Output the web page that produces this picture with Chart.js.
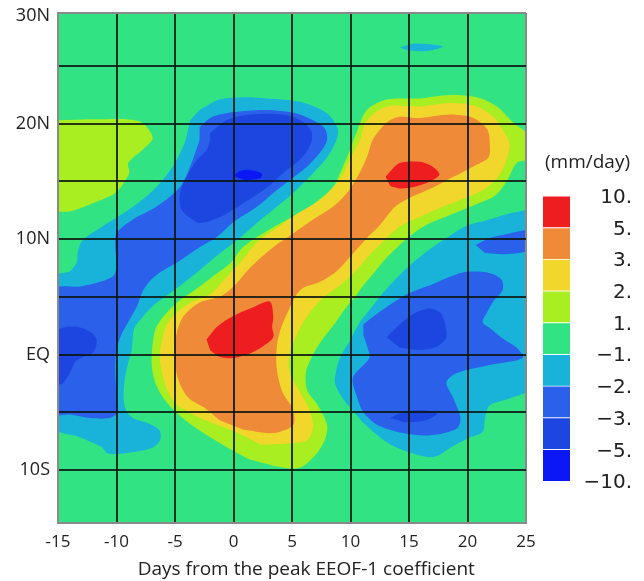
<!DOCTYPE html>
<html>
<head>
<meta charset="utf-8">
<script src="https://cdn.jsdelivr.net/npm/chart.js@4.4.1/dist/chart.umd.min.js"></script>
<style>
  html, body { margin: 0; padding: 0; background: #fff; }
  #wrap { position: relative; width: 644px; height: 581px; }
  #map { position: absolute; left: 0; top: 0; }
  #bar { position: absolute; left: 530px; top: 130px; }
</style>
</head>
<body>
<div id="wrap">
  <canvas id="map" width="540" height="581"></canvas>
  <canvas id="bar" width="114" height="380"></canvas>
</div>
<script>
'use strict';

// axes
const dayTicks = [-15, -10, -5, 0, 5, 10, 15, 20, 25];
const latTicks = [-10, -5, 0, 5, 10, 15, 20, 25];
const latLabels = { '-10': '10S', '0': 'EQ', '10': '10N', '20': '20N', '29.35': '30N' };

// colour levels (mm/day), bottom to top of the colour bar
const levelLabels = ['\u221210.', '\u22125.', '\u22123.', '\u22122.', '\u22121.', '1.', '2.', '3.', '5.', '10.'];
const GREEN = '#32e384', CYAN = '#19b3d9', BLUE1 = '#2a60ea', BLUE2 = '#1c46df', BLUE3 = '#0c18f3';
const YG = '#a8ee20', YEL = '#f1d62b', ORA = '#ef8a38', RED = '#ee1d1f';
const levelColors = [BLUE3, BLUE2, BLUE1, CYAN, GREEN, YG, YEL, ORA, RED];

// contour regions, [day, latitude]
const frame = [[-16, -16], [26, -16], [26, 31], [-16, 31]];

const cyanWest = [[-2.9,21.2],[-1.2,22.1],[1,22.3],[2.8,22.2],[5.7,21.9],[8.0,20.9],[8.9,19.6],[8.8,18.6],[8.0,17.1],[6.5,15.4],
  [5.1,14.0],[3.7,12.8],[2.0,11.4],[0.3,9.9],[-1.5,8.5],[-3.5,6.8],[-5.3,5.4],[-6.8,4.3],[-7.8,3.2],[-8.5,2.2],[-8.7,0.4],
  [-9.0,-0.7],[-9.3,-2.2],[-9.4,-3.7],[-9.2,-4.8],[-8.6,-5.5],[-7.2,-6.0],[-6.3,-6.6],[-6.3,-7.5],[-7.0,-8.1],[-8.8,-8.5],
  [-10.7,-8.6],[-11.3,-8.0],[-13.3,-7.1],[-15.3,-6.3],[-15.3,6.8],[-14,7.2],[-13.4,8.0],[-13.3,8.9],[-12.9,9.9],[-11.2,11.1],
  [-8.6,12.8],[-6.6,14.5],[-5.2,16.3],[-4.2,18.3],[-3.7,20.3]];
const cyanEast = [[25.3,12.6],[23.5,12.2],[21.5,11.6],[20,11.2],[18.5,10.3],[17,9.3],[15.5,8.1],[14.2,6.9],[13,5.6],[11.8,4.1],
  [10.8,2.8],[10,1.3],[9.1,-0.3],[8.7,-1.8],[8.7,-2.6],[9.4,-3.9],[10.4,-5.1],[11.3,-6.1],[13.1,-7.6],[14.8,-8.4],[16.8,-8.9],
  [17.6,-8.7],[18.5,-8.1],[20.2,-7.2],[21.3,-6.7],[21.5,-5.5],[21.9,-4.4],[23.6,-3.8],[25.3,-3.2]];
const cyanStreak = [[14.2,26.6],[15.5,26.95],[17.9,26.7],[16.5,26.3],[15,26.35]];

const blue1West = [[-2.9,19.7],[-1.8,20.6],[-0.1,21.0],[2.8,21.2],[5.4,20.9],[6.8,20.3],[7.8,19.6],[8.0,18.6],[7.4,17.5],[6.3,16.3],
  [4.8,15.1],[3.4,14.0],[2.0,12.8],[-0.1,11.4],[-1.4,10.2],[-2.9,9.3],[-4.8,8.0],[-6.3,7.1],[-7.2,6.3],[-7.8,5.4],[-8.2,4.3],
  [-8.9,3.0],[-9.6,1.7],[-10,0.4],[-10.1,-1.3],[-10,-3.5],[-9.9,-5.0],[-10.6,-5.5],[-12.3,-5.5],[-14,-5.2],[-15.3,-5.1],
  [-15.3,5.6],[-13.1,5.9],[-11.4,6.3],[-10.2,6.9],[-10,8.0],[-10.1,9.1],[-10,10.5],[-8.6,11.7],[-6.6,12.8],[-4.6,14.5],
  [-3.7,16.3],[-2.9,18.6]];
const blue1East = [[11.1,2.6],[12.5,3.7],[14.8,5.2],[16.8,6.0],[19.6,7.1],[21.7,7.1],[22.9,6.5],[23.0,5.6],[22.2,4.6],[21.7,3.7],
  [21.3,2.8],[21.9,2.3],[23.0,1.4],[24.2,0.6],[24.7,-0.3],[21.9,-0.9],[19.1,-1.6],[18.2,-2.4],[18.8,-3.8],[19.4,-5.5],
  [19.1,-6.4],[16.8,-7.0],[14.5,-6.8],[12.3,-6.1],[11.1,-5.0],[10.6,-3.8],[10.2,-2.0],[11.6,-0.3],[11.4,0.8],[11.1,1.7]];
const blue1North = [[20.7,9.5],[21.9,10.1],[23.6,10.5],[25.3,10.7],[25.3,9.1],[23.2,8.7],[21.5,8.8]];

const blue2West = [[-2.0,19.2],[-0.6,20.3],[1.4,20.8],[4.2,20.8],[5.9,20.2],[6.7,19.2],[6.5,18.0],[5.7,16.9],[4.2,15.7],[2.9,14.5],
  [0.8,13.1],[-1.2,11.9],[-2.9,11.4],[-3.5,11.7],[-4.4,12.5],[-4.6,13.8],[-4.0,15.4],[-3.1,16.9],[-2.3,17.7],[-2.0,18.6]];
const blue2Eq = [[-15.3,2.1],[-14.2,2.4],[-13.4,2.4],[-12.3,2.0],[-11.7,1.3],[-12.0,0.2],[-13.4,-0.5],[-14.0,-1.6],[-14.6,-2.5],[-15.3,-2.6]];
const blue2East = [[13.1,1.5],[14.2,2.6],[15.5,3.6],[16.8,4.0],[17.7,3.6],[18.1,2.6],[18.2,1.5],[17.4,0.7],[15.9,0.4],[14.2,0.6]];
const blue2South = [[13.4,-5.5],[14.2,-5.1],[16.0,-4.8],[17.4,-5.1],[16.4,-5.7],[14.7,-5.9]];
const blue3 = [[0.0,15.5],[0.6,15.9],[1.4,16.0],[2.4,15.7],[2.3,15.3],[1.0,15.1]];

const green1 = [[1.0,-8.9],[-0.1,-8.3],[-1.6,-7.4],[-3.3,-6.3],[-4.8,-5.1],[-5.9,-3.9],[-6.7,-2.4],[-7.0,-0.7],[-6.7,2.1],[-5.9,3.4],
  [-4.6,4.7],[-3.3,5.6],[-1.6,6.9],[-0.3,7.9],[0.8,9.3],[2.5,10.5],[4.6,11.7],[6.5,12.8],[8.5,14.5],[9.1,15.7],[9.7,17.1],
  [10.5,19.2],[11.4,21.2],[13.1,22.1],[15.9,22.2],[18.5,22.5],[20.8,22.3],[22.5,21.5],[23.9,20.1],[25.3,18.9],[25.3,17.0],
  [24.2,16.6],[23.4,15.1],[22.4,13.8],[20.7,13.0],[18.5,12.1],[16.8,11.4],[15.5,10.6],[14.2,9.5],[13.1,8.4],[12.1,7.2],
  [11.1,6.0],[10.4,5.0],[9.5,3.9],[8.6,2.6],[7.6,1.3],[6.8,0.0],[6.2,-1.5],[6.3,-3.1],[7.2,-4.4],[8.0,-6.1],[7.8,-7.4],
  [7.0,-8.7],[5.7,-9.8],[4.2,-9.8],[1.4,-9.1]];
const ygWest = [[-15.3,20.3],[-11.4,20.4],[-8.0,20.2],[-6.9,18.8],[-7.6,17.9],[-9.0,16.6],[-8.9,15.8],[-9.3,15.0],[-10.1,14.0],
  [-12.3,13.0],[-14.0,12.4],[-15.3,12.4]];
const yellow2 = [[1.0,-7.1],[-0.1,-6.6],[-1.9,-5.9],[-3.6,-5.1],[-5.0,-4.2],[-5.9,-2.4],[-6.3,-0.2],[-5.9,2.1],[-5.3,3.2],[-3.7,4.5],
  [-1.9,5.3],[-0.8,6.5],[0.5,7.9],[2.2,9.9],[3.9,11.1],[5.6,12.3],[7.4,13.4],[8.5,14.5],[9.4,15.7],[9.9,16.9],[10.8,18.6],
  [11.4,20.3],[13.1,21.5],[15.9,21.5],[18.5,21.8],[20.8,21.5],[22.2,20.6],[23.0,19.5],[23.6,18.3],[23.4,17.1],[22.8,15.7],
  [21.7,14.5],[19.9,13.6],[17.9,12.8],[15.9,11.9],[14.2,11.1],[12.9,9.9],[11.6,8.6],[10.5,7.3],[9.1,6.0],[7.4,4.7],[6.1,3.0],
  [5.4,1.7],[4.8,0.1],[4.8,-1.6],[5.7,-3.3],[6.5,-4.8],[6.8,-6.3],[6.3,-7.4],[4.6,-7.7],[2.3,-7.8]];
const orange3 = [[-1.2,-5.7],[-2.5,-4.6],[-3.9,-3.7],[-4.8,-1.9],[-5.0,0.4],[-4.8,2.1],[-4.2,3.4],[-2.9,4.5],[-1.0,5.1],[0.1,6.0],
  [1.4,7.5],[3.4,9.3],[5.1,10.5],[6.8,11.7],[8.5,12.8],[9.7,14.0],[10.6,15.4],[11.4,17.1],[11.9,18.6],[13.1,20.1],[14.2,20.6],
  [15.9,20.5],[18.5,20.8],[20.5,20.5],[21.7,19.5],[21.9,18.3],[21.8,17.1],[20.5,16.3],[18.8,15.4],[17.1,14.5],[15.1,13.6],
  [13.8,12.8],[12.5,11.2],[11.4,10.1],[9.9,8.4],[8.8,7.2],[7.4,6.3],[5.7,5.6],[4.6,3.6],[4.0,2.1],[3.7,0.7],[3.7,-1.3],
  [4.2,-3.3],[5.1,-4.8],[5.1,-6.1],[3.4,-6.8],[0.8,-6.5]];
const redCentre = [[-2.3,1.3],[-1.4,2.4],[-0.1,3.3],[1.7,4.1],[3.1,4.6],[3.4,3.3],[3.3,2.4],[3.4,1.5],[2.5,0.7],[1.4,0.1],
  [-0.1,-0.3],[-1.2,-0.2],[-2.0,0.4]];
const redNorth = [[13.0,15.4],[13.7,16.2],[14.2,16.6],[15.9,16.7],[17.0,16.3],[17.6,15.6],[16.8,15.0],[15.3,14.5],[14.2,14.4],[13.4,14.6]];

// painting order, lowest first
const layers = [
  [frame, GREEN], [cyanWest, CYAN], [cyanEast, CYAN], [cyanStreak, CYAN],
  [blue1West, BLUE1], [blue1East, BLUE1], [blue1North, BLUE1],
  [blue2West, BLUE2], [blue2Eq, BLUE2], [blue2East, BLUE2], [blue2South, BLUE2], [blue3, BLUE3],
  [green1, YG], [ygWest, YG], [yellow2, YEL], [orange3, ORA], [redCentre, RED], [redNorth, RED]
];

Chart.defaults.font.family = "'Open Sans', sans-serif";
Chart.defaults.color = '#222';

var gridColor = function (edges) {
  return function (c) {
    var v = c.tick.value;
    if (v === 29.35) return 'rgba(0,0,0,0)';
    if (edges.indexOf(v) >= 0) return '#8a8a8a';
    return 'rgba(10,20,15,0.85)';
  };
};

new Chart(document.getElementById('map'), {
  type: 'scatter',
  data: {
    datasets: layers.map(function (l, i) {
      return {
        data: l[0].map(function (p) { return { x: p[0], y: p[1] }; }),
        showLine: true,
        fill: 'shape',
        backgroundColor: l[1],
        borderColor: l[1],
        borderWidth: 0,
        pointRadius: 0,
        tension: i === 0 ? 0 : 0.3,
        order: -i
      };
    })
  },
  options: {
    responsive: false,
    animation: false,
    events: [],
    layout: { padding: { left: 0, right: 14, top: 13, bottom: 0 } },
    plugins: { legend: { display: false }, tooltip: { enabled: false } },
    scales: {
      x: {
        min: -15, max: 25,
        afterBuildTicks: function (s) { s.ticks = dayTicks.map(function (v) { return { value: v }; }); },
        afterFit: function (s) { s.height = 58; s.paddingLeft = 0; s.paddingRight = 0; },
        grid: { z: 1, color: gridColor([-15, 25]), lineWidth: 2, drawTicks: false },
        border: { z: 2, color: '#8a8a8a', width: 2 },
        ticks: { padding: 9, font: { size: 17 } },
        title: {
          display: true,
          text: '\u2002\u2002\u2002Days from the peak EEOF-1 coefficient',
          font: { size: 19 },
          padding: { top: 0, bottom: 0 }
        }
      },
      y: {
        min: -14.6, max: 29.6,
        afterBuildTicks: function (s) {
          s.ticks = latTicks.concat([29.35, 29.6]).map(function (v) { return { value: v }; });
        },
        afterFit: function (s) { s.width = 58; s.paddingTop = 0; s.paddingBottom = 0; },
        grid: { z: 1, color: gridColor([29.6]), lineWidth: 2, drawTicks: false },
        border: { z: 2, color: '#8a8a8a', width: 2 },
        ticks: {
          padding: 8,
          font: { size: 18 },
          callback: function (v) { return latLabels[String(v)] || ''; }
        }
      }
    }
  }
});

// colour bar
new Chart(document.getElementById('bar'), {
  type: 'bar',
  data: {
    labels: [''],
    datasets: levelColors.map(function (c) {
      return {
        data: [1],
        backgroundColor: c,
        borderColor: 'rgba(255,255,255,0.8)',
        borderWidth: { top: 1, left: 0, right: 0, bottom: 0 },
        borderSkipped: false,
        barPercentage: 1,
        categoryPercentage: 1
      };
    })
  },
  options: {
    responsive: false,
    animation: false,
    events: [],
    layout: { padding: { left: 13, right: 12, top: 0, bottom: 29 } },
    plugins: {
      legend: { display: false },
      tooltip: { enabled: false },
      title: {
        display: true,
        text: '(mm/day)',
        color: '#222',
        font: { size: 19, weight: 'normal' },
        padding: { top: 21, bottom: 22 }
      }
    },
    scales: {
      x: { display: false, stacked: true },
      y: {
        stacked: true,
        position: 'right',
        min: 0, max: 9,
        afterFit: function (s) { s.width = 62; s.paddingTop = 0; s.paddingBottom = 0; },
        grid: { display: false, drawTicks: false },
        border: { display: false },
        ticks: {
          stepSize: 1,
          padding: 5,
          crossAlign: 'far',
          labelOffset: 2,
          font: { size: 20, family: "'DejaVu Sans', sans-serif" },
          callback: function (v) { return levelLabels[v]; }
        }
      }
    }
  }
});
</script>
</body>
</html>
